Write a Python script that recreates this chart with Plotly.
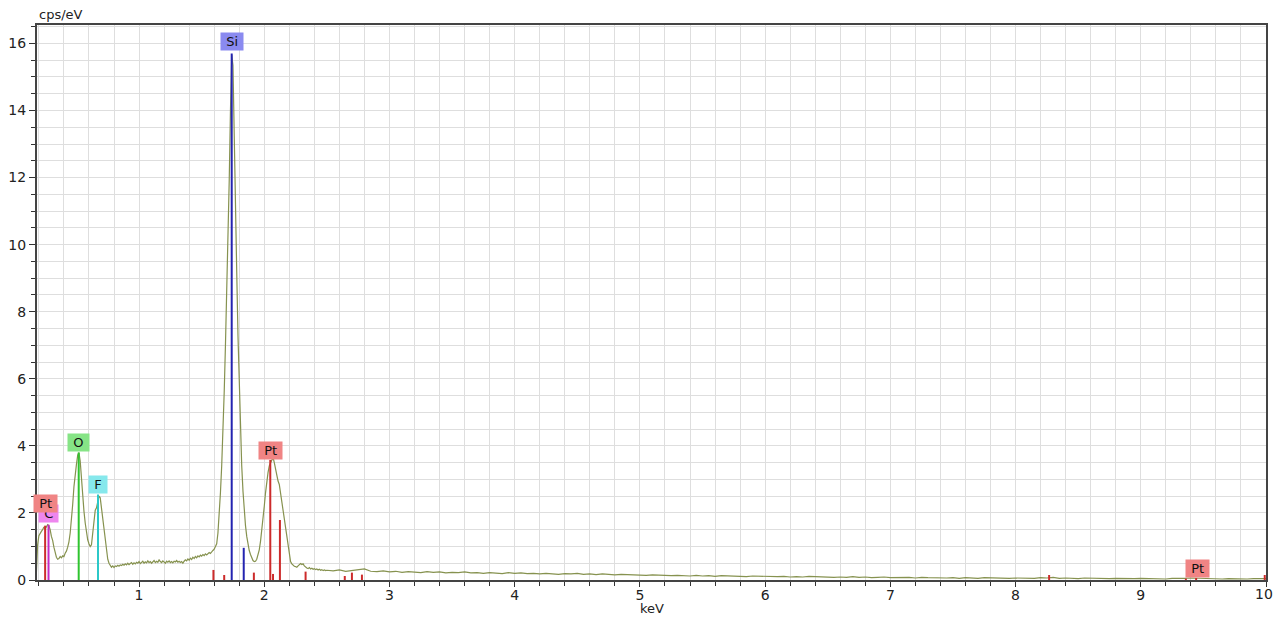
import plotly.graph_objects as go

# ---- spectrum (cps/eV), segment A: 0.18..2.49 keV step 0.01 ----
seg_a_start = 0.18
seg_a_step = 0.01
seg_a_counts = [
    0.20, 1.05,
    1.32, 1.40, 1.45, 1.50, 1.58, 1.52, 1.60, 1.65, 1.62, 1.50,
    1.30, 1.18, 0.98, 0.80, 0.68, 0.62, 0.64, 0.70, 0.66, 0.72,
    0.70, 0.80, 0.86, 0.98, 1.14, 1.40, 1.78, 2.25, 2.78, 3.20,
    3.45, 3.72, 3.80, 3.55, 3.00, 2.45, 2.05, 1.70, 1.42, 1.20,
    1.08, 1.00, 1.05, 1.35, 1.80, 2.08, 2.15, 2.35, 2.50, 2.45,
    2.15, 1.80, 1.45, 1.12, 0.85, 0.62, 0.50, 0.44, 0.38, 0.42,
    0.37, 0.42, 0.40, 0.44, 0.41, 0.45, 0.43, 0.47, 0.44, 0.48,
    0.45, 0.50, 0.46, 0.49, 0.52, 0.47, 0.51, 0.48, 0.53, 0.50,
    0.55, 0.49, 0.52, 0.56, 0.50, 0.54, 0.51, 0.57, 0.52, 0.55,
    0.50, 0.54, 0.58, 0.52, 0.56, 0.53, 0.60, 0.55, 0.52, 0.57,
    0.54, 0.50, 0.56, 0.53, 0.57, 0.52, 0.55, 0.51, 0.56, 0.54,
    0.58, 0.53, 0.56, 0.52, 0.55, 0.50, 0.56, 0.60, 0.57, 0.63,
    0.59, 0.65, 0.61, 0.68, 0.64, 0.70, 0.66, 0.72, 0.69, 0.74,
    0.71, 0.76, 0.73, 0.78, 0.75, 0.80, 0.82, 0.79, 0.85, 0.88,
    0.92, 0.98, 1.08, 1.40, 1.95, 2.60, 3.40, 4.40, 5.60, 7.00,
    8.50, 10.10, 11.90, 14.00, 15.65, 15.35, 13.60, 11.40, 9.20, 7.30,
    5.70, 4.40, 3.40, 2.65, 2.05, 1.62, 1.30, 1.05, 0.88, 0.76,
    0.64, 0.58, 0.55, 0.56, 0.62, 0.74, 0.90, 1.15, 1.45, 1.85,
    2.20, 2.60, 2.95, 3.20, 3.40, 3.50, 3.62, 3.66, 3.50, 3.30,
    3.10, 2.95, 2.85, 2.60, 2.35, 2.10, 1.80, 1.50, 1.25, 1.00,
    0.75, 0.55, 0.48, 0.44, 0.41, 0.40, 0.38, 0.42, 0.46, 0.49,
    0.46, 0.48, 0.42, 0.38, 0.36, 0.34, 0.37, 0.33, 0.35, 0.32,
    0.34, 0.31, 0.33, 0.30, 0.32, 0.29, 0.31, 0.28, 0.30, 0.28,
]

# ---- segment B: 2.50..10.00 keV step 0.05 ----
seg_b_start = 2.50
seg_b_step = 0.05
seg_b_counts = [
    0.29, 0.27, 0.30, 0.26, 0.28, 0.31, 0.33, 0.26, 0.25, 0.27,
    0.24, 0.26, 0.23, 0.25, 0.24, 0.22, 0.25, 0.23, 0.24, 0.21,
    0.23, 0.22, 0.24, 0.21, 0.22, 0.20, 0.22, 0.21, 0.19, 0.22,
    0.20, 0.21, 0.19, 0.20, 0.18, 0.20, 0.19, 0.17, 0.19, 0.18,
    0.20, 0.17, 0.18, 0.16, 0.18, 0.17, 0.15, 0.17, 0.16, 0.15,
    0.16, 0.14, 0.15, 0.14, 0.15, 0.13, 0.14, 0.13, 0.12, 0.14,
    0.12, 0.13, 0.11, 0.13, 0.12, 0.11, 0.12, 0.10, 0.12, 0.11,
    0.10, 0.11, 0.10, 0.11, 0.09, 0.10, 0.09, 0.11, 0.10, 0.09,
    0.10, 0.08, 0.09, 0.08, 0.10, 0.08, 0.09, 0.07, 0.08, 0.09,
    0.07, 0.08, 0.07, 0.08, 0.06, 0.08, 0.07, 0.06, 0.07, 0.06,
    0.07, 0.05, 0.07, 0.06, 0.05, 0.07, 0.06, 0.05, 0.06, 0.05,
    0.06, 0.05, 0.06, 0.05, 0.07, 0.06, 0.08, 0.05, 0.06, 0.05,
    0.04, 0.06, 0.05, 0.04, 0.05, 0.04, 0.05, 0.04, 0.05, 0.04,
    0.05, 0.04, 0.05, 0.04, 0.03, 0.05, 0.04, 0.05, 0.06, 0.05,
    0.04, 0.05, 0.04, 0.03, 0.04, 0.03, 0.04, 0.03, 0.04, 0.03,
    0.04,
]

# ---- element line markers (keV, relative height in cps/eV) ----
pt_energies = [0.250, 1.594, 1.680, 1.917, 2.048, 2.070, 2.125, 2.330, 2.643, 2.700, 2.780, 8.268, 9.360, 9.442, 9.990]
pt_heights = [1.62, 0.30, 0.15, 0.22, 3.58, 0.18, 1.79, 0.25, 0.12, 0.22, 0.16, 0.15, 0.04, 0.06, 0.15]
c_energies = [0.277]
c_heights = [1.65]
o_energies = [0.518]
o_heights = [3.80]
f_energies = [0.672]
f_heights = [2.55]
si_energies = [1.740, 1.836]
si_heights = [15.70, 0.96]

# ---- element labels (text, keV, cps/eV of box bottom) ----
label_texts = ["C", "Pt", "O", "F", "Si", "Pt", "Pt"]
label_energies = [0.276, 0.256, 0.520, 0.675, 1.740, 2.052, 9.450]
label_levels = [1.70, 2.00, 3.82, 2.56, 15.78, 3.58, 0.06]
label_elements = ["C", "Pt", "O", "F", "Si", "Pt", "Pt"]

x_tick_vals = [1, 2, 3, 4, 5, 6, 7, 8, 9, 10]
x_tick_text = ["1", "2", "3", "4", "5", "6", "7", "8", "9", ""]   # "10" drawn at the edge below
x_last_label = "10"
y_tick_vals = [0, 2, 4, 6, 8, 10, 12, 14, 16]

line_colors = {"Pt": "#cc2b2b", "C": "#c42bc4", "O": "#2fc42f", "F": "#2cc8c8", "Si": "#2424b0"}
box_colors = {"Pt": "#f08484", "C": "#ee86ee", "O": "#86e486", "F": "#86e8ec", "Si": "#8a8af0"}

energies = [round(seg_a_start + i * seg_a_step, 3) for i in range(len(seg_a_counts))]
energies += [round(seg_b_start + i * seg_b_step, 3) for i in range(len(seg_b_counts))]
counts = seg_a_counts + seg_b_counts

fig = go.Figure()
fig.add_trace(go.Scatter(x=energies, y=counts, mode="lines",
                         line=dict(color="#86924f", width=1.2),
                         hoverinfo="skip", showlegend=False))


def stick_trace(es, hs, el):
    xs, ys = [], []
    for e, h in zip(es, hs):
        xs += [e, e, None]
        ys += [0, h, None]
    return go.Scatter(x=xs, y=ys, mode="lines",
                      line=dict(color=line_colors[el], width=2),
                      hoverinfo="skip", showlegend=False)


fig.add_trace(stick_trace(pt_energies, pt_heights, "Pt"))
fig.add_trace(stick_trace(c_energies, c_heights, "C"))
fig.add_trace(stick_trace(o_energies, o_heights, "O"))
fig.add_trace(stick_trace(f_energies, f_heights, "F"))
fig.add_trace(stick_trace(si_energies, si_heights, "Si"))

for t, e, lv, el in zip(label_texts, label_energies, label_levels, label_elements):
    fig.add_annotation(x=e, y=lv, text="&nbsp;" + t + "&nbsp;", showarrow=False,
                       xanchor="center", yanchor="bottom",
                       bgcolor=box_colors[el], borderpad=1,
                       font=dict(family="DejaVu Sans", size=13, color="#111"))

axis_font = dict(family="DejaVu Sans", size=14, color="#222")
fig.update_xaxes(range=[0.185, 10.0], tickmode="array", tickvals=x_tick_vals, ticktext=x_tick_text,
                 automargin=False,
                 ticks="outside", ticklen=5, tickwidth=1, tickcolor="#333",
                 ticklabelstandoff=-4,
                 showline=True, linecolor="#444", linewidth=2, mirror=True,
                 showgrid=True, gridcolor="#dedede", gridwidth=1,
                 zeroline=False, tickfont=axis_font,
                 minor=dict(dtick=0.2, tick0=0, ticks="outside", ticklen=4, tickcolor="#333",
                            showgrid=True, gridcolor="#dedede", gridwidth=1))
fig.update_yaxes(range=[0, 16.55], tickmode="array", tickvals=y_tick_vals, automargin=False,
                 ticks="outside", ticklen=6, tickwidth=1, tickcolor="#333",
                 showline=True, linecolor="#444", linewidth=2, mirror=True,
                 showgrid=True, gridcolor="#dedede", gridwidth=1,
                 zeroline=False, tickfont=axis_font,
                 minor=dict(dtick=0.5, tick0=0, ticks="outside", ticklen=4, tickcolor="#333",
                            showgrid=True, gridcolor="#dedede", gridwidth=1))

# last x tick label, kept inside the window at the right edge
fig.add_annotation(xref="paper", yref="paper", x=1.0, y=0.0, xanchor="right", yanchor="top",
                   xshift=8, yshift=-5, text=x_last_label, showarrow=False, borderpad=0,
                   font=axis_font)
fig.add_annotation(xref="paper", yref="paper", x=0.0, y=1.0, xanchor="left", yanchor="bottom",
                   yshift=1, text="cps/eV", showarrow=False,
                   font=dict(family="DejaVu Sans", size=13, color="#222"))
fig.add_annotation(xref="paper", yref="paper", x=0.5, y=0.0, xanchor="center", yanchor="top",
                   yshift=-19, text="keV", showarrow=False,
                   font=dict(family="DejaVu Sans", size=13, color="#222"))

fig.update_layout(width=1274, height=617, margin=dict(l=37, r=8, t=25, b=37),
                  plot_bgcolor="white", paper_bgcolor="white", showlegend=False)

# remove the browser's default body margin so the figure fills the window exactly
fig.write_html("out.html", config={"displayModeBar": False},
               post_script="document.body.style.margin='0';document.body.style.overflow='hidden';")
